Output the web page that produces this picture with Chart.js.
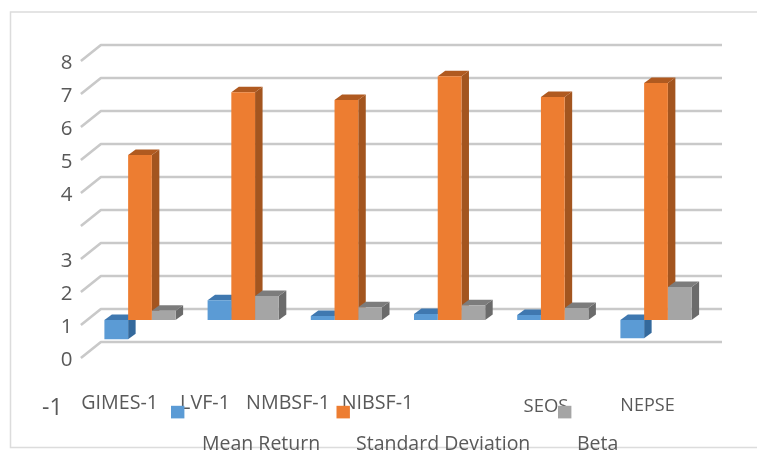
<!DOCTYPE html>
<html><head><meta charset="utf-8">
<style>html,body{margin:0;padding:0;background:#fff}canvas{display:block}</style>
<script src="https://cdn.jsdelivr.net/npm/chart.js@4/dist/chart.umd.min.js"></script>
</head><body><canvas id="c" width="757" height="450"></canvas>
<script>
const categories = ['GIMES-1','LVF-1','NMBSF-1','NIBSF-1','SEOS','NEPSE'];
const meanReturn = [-0.58,0.6,0.12,0.18,0.15,-0.55];
const standardDeviation = [5.0,6.9,6.67,7.39,6.76,7.18];
const beta = [0.28,0.73,0.39,0.45,0.36,1.0];
const seriesNames = ['Mean Return','Standard Deviation','Beta'];
const gridValues = [8,7,6,5,4,3,2,1,0,-1];
const yTickValues = [8,7,6,5,4,3,2,1,0,-1,-2.45];
const yTickLabels = ['8','7','6','5','4','','3','2','1','0','-1 \u2009'];

const FONT = '"Open Sans"';
const faces = [
  {front:'#5b9bd5', top:'#3f78b0', side:'#34699c'},
  {front:'#ed7d31', top:'#b05a20', side:'#a3551f'},
  {front:'#a5a5a5', top:'#7c7c7c', side:'#6b6b6b'}
];
const DX = 7.5, DY = -5.5;
const catShift = [[-20.3,-1],[-38.2,-1],[-58.4,-1],[-72.1,-1],[-6.8,2.5],[-8.5,2.5]];
const catFontSize = [19.7,19.7,19.7,19.7,18.5,18];
const legendLayout = [{box:171,text:202},{box:336.5,text:356},{box:558,text:577}];

const scene = {
  id:'scene',
  beforeDraw(chart){
    const c = chart.ctx;
    c.save();
    c.fillStyle='#fff'; c.fillRect(0,0,757,450);
    c.strokeStyle='#dcdcdc'; c.lineWidth=1.5;
    c.beginPath(); c.moveTo(757,12); c.lineTo(10.5,12); c.lineTo(10.5,447.5); c.lineTo(757,447.5); c.stroke();
    c.restore();
    const xs = chart.scales.x;
    xs.getLabelItems(chart.chartArea).forEach((it,i)=>{
      if(!it._moved){ it.options.translation[0]+=catShift[i][0]; it.options.translation[1]+=catShift[i][1]; it._moved=true; }
    });
  },
  beforeDatasetsDraw(chart){
    const c = chart.ctx, ys = chart.scales.y, a = chart.chartArea;
    c.save();
    c.strokeStyle='#c9c9c9'; c.lineWidth=2.6; c.lineJoin='round';
    gridValues.forEach(v=>{
      const y = ys.getPixelForValue(v);
      c.beginPath();
      c.moveTo(a.left-7.5,y+5); c.lineTo(a.left+12.5,y-11); c.lineTo(a.right+14.4,y-11);
      c.stroke();
    });
    chart.data.datasets.forEach((d,i)=>{
      const f = faces[i];
      chart.getDatasetMeta(i).data.forEach(el=>{
        const l = el.x-el.width/2, r = el.x+el.width/2;
        const t = Math.min(el.y,el.base), b = Math.max(el.y,el.base);
        c.fillStyle=f.side;
        c.beginPath(); c.moveTo(r,t); c.lineTo(r+DX,t+DY); c.lineTo(r+DX,b+DY); c.lineTo(r,b); c.closePath(); c.fill();
        c.fillStyle=f.top;
        c.beginPath(); c.moveTo(l,t); c.lineTo(l+DX,t+DY); c.lineTo(r+DX,t+DY); c.lineTo(r,t); c.closePath(); c.fill();
      });
    });
    c.restore();
  },
  afterDraw(chart){
    const c = chart.ctx;
    c.save();
    c.font = '19.5px '+FONT; c.textBaseline='middle'; c.textAlign='left';
    seriesNames.forEach((n,i)=>{
      const p = legendLayout[i];
      c.fillStyle=faces[i].front; c.fillRect(p.box,405.8,13.4,12.6);
      c.fillStyle='#595959'; c.fillText(n,p.text,444.5);
    });
    c.restore();
  }
};

new Chart(document.getElementById('c'),{
  type:'bar',
  data:{labels:categories,datasets:[
    {label:seriesNames[0],data:meanReturn,backgroundColor:faces[0].front},
    {label:seriesNames[1],data:standardDeviation,backgroundColor:faces[1].front},
    {label:seriesNames[2],data:beta,backgroundColor:faces[2].front}
  ]},
  options:{
    responsive:false,animation:false,
    layout:{padding:{top:56,right:49.4,left:0,bottom:0}},
    datasets:{bar:{categoryPercentage:0.69,barPercentage:1,borderWidth:0}},
    plugins:{legend:{display:false},tooltip:{enabled:false},title:{display:false}},
    scales:{
      x:{
        grid:{display:false,drawTicks:false},border:{display:false},
        ticks:{color:'#595959',font:ctx=>({family:FONT,size:catFontSize[ctx.index]||18}),maxRotation:0,autoSkip:false},
        afterFit(s){s.height=60;}
      },
      y:{
        min:-2.1212,max:8,
        grid:{display:false,drawTicks:false},border:{display:false},
        afterBuildTicks(s){s.ticks=yTickValues.map(v=>({value:v}));},
        afterFit(s){s.width=88.4;},
        ticks:{color:'#595959',font:ctx=>({family:FONT,size:ctx.tick&&ctx.tick.value===-2.45?23:20.5}),padding:16,labelOffset:7.5,autoSkip:false,
          callback(v){return yTickLabels[yTickValues.indexOf(v)];}}
      }
    }
  },
  plugins:[scene]
});
</script></body></html>
